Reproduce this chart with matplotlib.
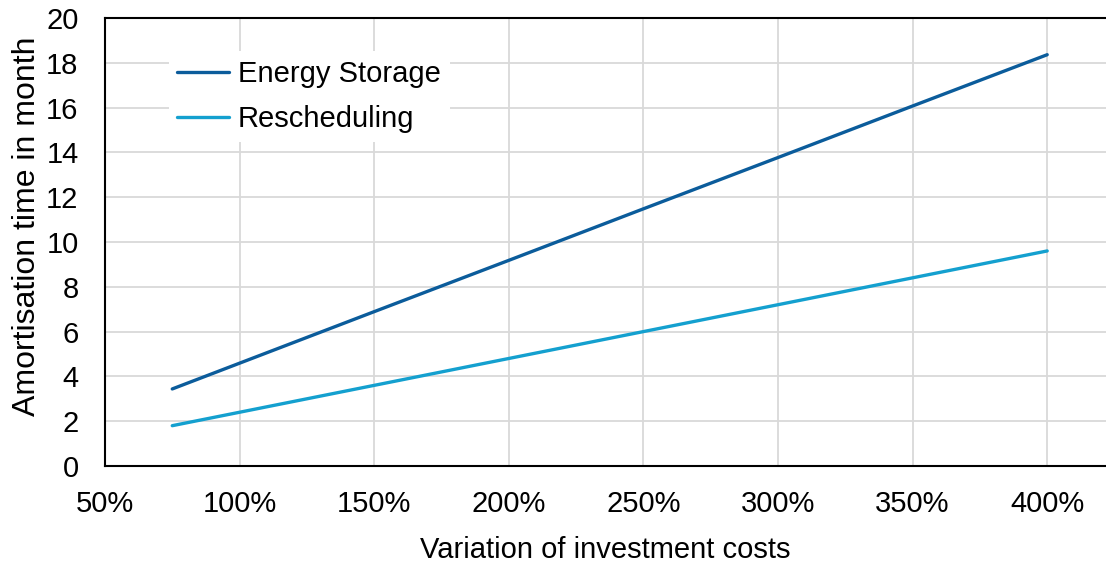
import matplotlib.pyplot as plt
from matplotlib.ticker import FuncFormatter

plt.rcParams['font.family'] = ['Liberation Sans', 'DejaVu Sans']

# investment cost variation (%) and amortisation time (months)
cost_pct = [75, 100, 150, 200, 250, 300, 350, 400]
energy_storage = [3.44, 4.59, 6.89, 9.18, 11.48, 13.77, 16.07, 18.36]
rescheduling = [1.8, 2.4, 3.6, 4.8, 6.0, 7.2, 8.4, 9.6]

fs = 21

fig = plt.figure(figsize=(11.06, 5.65), dpi=100)
ax = fig.add_axes([0.0949, 0.1752, 0.9051, 0.793])

ax.plot(cost_pct, energy_storage, color='#0b5c9b', lw=2.4, label='Energy Storage',
        solid_capstyle='round')
ax.plot(cost_pct, rescheduling, color='#14a0cf', lw=2.4, label='Rescheduling',
        solid_capstyle='round')

ax.set_xlim(50, 50 + (1106 - 105) / 134.6 * 50)
ax.set_ylim(0, 20)
ax.set_xticks(range(50, 401, 50))
ax.set_yticks(range(0, 21, 2))
ax.xaxis.set_major_formatter(FuncFormatter(lambda v, p: f'{int(v)}%'))
ax.grid(True, color='#d9d9d9', lw=1.3)
ax.set_axisbelow(True)
ax.tick_params(length=0, labelsize=fs)
ax.tick_params(axis='y', pad=19)
ax.tick_params(axis='x', pad=17)
for s in ['left', 'bottom', 'top']:
    ax.spines[s].set_linewidth(1.5)
ax.spines['right'].set_visible(False)

ax.set_xlabel('Variation of investment costs', fontsize=fs, labelpad=13)
ax.set_ylabel('Amortisation time in month', fontsize=23)
ax.yaxis.set_label_coords(-0.063, 0.535)

leg = ax.legend(loc='upper left', bbox_to_anchor=(0.049, 0.958), fontsize=fs,
                frameon=True, edgecolor='none', facecolor='white', framealpha=1,
                handlelength=1.78, handletextpad=0.3, labelspacing=0.58,
                borderpad=0.3, fancybox=False)

fig.savefig('out.png', dpi=100)
